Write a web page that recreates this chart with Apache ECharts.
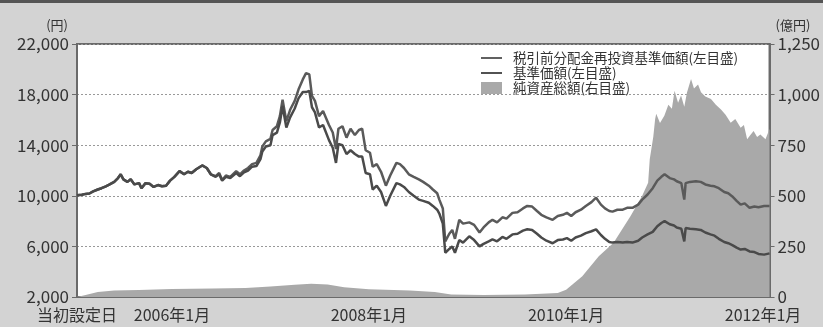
<!DOCTYPE html>
<html>
<head>
<meta charset="utf-8">
<script src="https://cdn.jsdelivr.net/npm/echarts@6/dist/echarts.min.js"></script>
<style>
  html, body { margin: 0; padding: 0; background: #d3d3d3; }
  #chart { width: 823px; height: 327px; }
</style>
</head>
<body>
<div id="chart"></div>
<script>
// 基準価額・税引前分配金再投資基準価額（円）
const priceDates = [
  '2005-01-14','2005-02-01','2005-02-15','2005-03-01','2005-03-15','2005-04-01','2005-04-15','2005-05-01','2005-05-15','2005-06-01',
  '2005-06-15','2005-06-25','2005-07-05','2005-07-20','2005-08-01','2005-08-15','2005-09-01','2005-09-10','2005-09-25','2005-10-10',
  '2005-10-25','2005-11-10','2005-11-25','2005-12-10','2005-12-25','2006-01-10','2006-01-29','2006-02-15','2006-03-01','2006-03-15',
  '2006-04-01','2006-04-23','2006-05-10','2006-05-25','2006-06-12','2006-06-25','2006-07-06','2006-07-20','2006-08-05','2006-08-27',
  '2006-09-10','2006-09-25','2006-10-10','2006-10-25','2006-11-10','2006-11-25','2006-12-02','2006-12-15','2007-01-01','2007-01-09',
  '2007-01-25','2007-02-05','2007-02-15','2007-03-01','2007-03-15','2007-04-01','2007-04-15','2007-05-01','2007-05-13','2007-05-25',
  '2007-06-04','2007-06-15','2007-06-30','2007-07-15','2007-08-06','2007-08-20','2007-09-01','2007-09-10','2007-09-25','2007-10-10',
  '2007-10-25','2007-11-10','2007-11-25','2007-12-07','2007-12-20','2008-01-05','2008-01-15','2008-01-30','2008-02-15','2008-03-04',
  '2008-03-20','2008-04-12','2008-04-25','2008-05-10','2008-05-28','2008-06-15','2008-07-04','2008-07-20','2008-08-10','2008-08-25',
  '2008-09-10','2008-09-18','2008-10-01','2008-10-10','2008-10-25','2008-11-05','2008-11-15','2008-12-01','2008-12-15','2009-01-07',
  '2009-01-25','2009-02-14','2009-03-01','2009-03-20','2009-04-03','2009-04-20','2009-05-10','2009-05-25','2009-06-16','2009-07-05',
  '2009-07-25','2009-08-10','2009-08-28','2009-09-15','2009-10-01','2009-10-20','2009-11-12','2009-12-01','2009-12-20','2010-01-04',
  '2010-01-20','2010-02-05','2010-02-25','2010-03-15','2010-04-05','2010-04-22','2010-05-10','2010-05-25','2010-06-10','2010-06-22',
  '2010-07-10','2010-07-30','2010-08-15','2010-09-04','2010-09-25','2010-10-10','2010-10-30','2010-11-18','2010-12-05','2010-12-20',
  '2011-01-01','2011-01-20','2011-02-05','2011-02-15','2011-03-04','2011-03-15','2011-03-20','2011-04-05','2011-04-27','2011-05-15',
  '2011-06-01','2011-06-20','2011-07-05','2011-07-21','2011-08-10','2011-08-25','2011-09-09','2011-09-25','2011-10-10','2011-10-25',
  '2011-11-12','2011-11-30','2011-12-15','2012-01-05','2012-01-25'
];
const navReinvest = [
  10050,10080,10150,10180,10350,10500,10600,10750,10900,11100,
  11400,11700,11300,11100,11300,10900,11000,10600,11000,10950,
  10700,10850,10750,10800,11200,11500,11950,11700,11900,11800,
  12100,12400,12200,11700,11550,11800,11250,11600,11500,11950,
  11700,12000,12200,12500,12600,13200,13900,14300,14500,15200,
  15500,16300,17600,15900,16800,17500,18400,19200,19700,19600,
  17900,17500,16300,16700,15600,15000,13700,15300,15500,14600,
  15300,14800,15200,15300,13600,13400,12300,12500,11900,10800,
  11600,12600,12500,12200,11700,11500,11300,11100,10800,10500,
  10200,9700,9000,6400,7000,7300,6600,8100,7800,7900,
  7700,7100,7500,7900,8100,7900,8300,8200,8650,8700,
  9000,9200,9150,8800,8500,8300,8100,8400,8500,8650,
  8400,8700,8900,9200,9500,9850,9300,9000,8800,8750,
  8900,8900,9050,9050,9300,9700,10100,10600,11200,11500,
  11700,11400,11300,11150,11000,9700,11000,11100,11150,11100,
  10900,10800,10750,10600,10300,10200,9950,9600,9300,9400,
  9050,9150,9100,9200,9200
];
const nav = [
  10050,10080,10150,10180,10350,10500,10600,10750,10900,11100,
  11400,11700,11300,11100,11300,10900,11000,10600,11000,10950,
  10700,10850,10750,10800,11200,11500,11950,11700,11900,11800,
  12100,12400,12200,11700,11500,11700,11200,11500,11400,11800,
  11550,11850,12000,12300,12350,12900,13500,13900,14000,14800,
  15000,15800,17100,15400,16200,16900,17700,18200,18200,18300,
  17000,16600,15400,15600,14400,13800,12600,14100,14000,13300,
  13600,13300,13100,13100,11800,11700,10500,10800,10300,9200,
  10000,11000,10900,10700,10300,10000,9700,9600,9450,9200,
  8900,8600,7800,5500,5800,6000,5500,6500,6300,6800,
  6500,6000,6200,6400,6550,6400,6750,6600,6950,7000,
  7250,7350,7300,7000,6700,6450,6250,6500,6550,6650,
  6450,6700,6850,7050,7200,7350,6900,6600,6350,6300,
  6350,6300,6350,6300,6450,6700,6950,7150,7600,7850,
  8000,7750,7650,7500,7400,6400,7450,7400,7350,7300,
  7100,6950,6850,6600,6350,6250,6100,5900,5750,5800,
  5600,5550,5400,5350,5450
];

// 純資産総額（億円）
const assetDates = [
  '2005-01-14','2005-02-15','2005-04-01','2005-06-01','2005-09-01','2006-01-01','2006-06-01','2006-10-01','2007-01-01','2007-04-01',
  '2007-06-01','2007-08-01','2007-10-01','2008-01-01','2008-06-01','2008-09-01','2008-11-01','2009-03-01','2009-08-01','2009-12-01',
  '2010-01-01','2010-03-02','2010-05-02','2010-06-26','2010-08-28','2010-10-10','2010-11-01','2010-11-07','2010-11-20','2010-11-27',
  '2010-12-01','2010-12-15','2010-12-31','2011-01-15','2011-01-28','2011-02-07','2011-02-20','2011-03-03','2011-03-15','2011-03-25',
  '2011-04-09','2011-04-20','2011-05-05','2011-05-16','2011-06-01','2011-06-22','2011-07-10','2011-07-29','2011-08-15','2011-09-03',
  '2011-09-20','2011-10-10','2011-10-22','2011-11-03','2011-11-15','2011-11-27','2011-12-10','2011-12-22','2012-01-10','2012-01-25'
];
const netAssets = [
  0,10,25,32,35,40,42,45,52,60,
  66,62,48,38,32,25,12,10,12,20,
  36,102,201,268,400,500,565,680,790,880,
  905,860,895,950,930,1019,960,995,940,1010,
  1077,1030,1050,1011,990,978,950,927,900,861,
  880,836,850,779,800,820,790,803,780,830
];

// 横軸ラベル
const startDate = '2005-01-14';
const endDate = '2012-01-25';
const yearTicks = ['2006-01-01', '2008-01-01', '2010-01-01', '2012-01-01'];
const legendNames = ['税引前分配金再投資基準価額(左目盛)', '基準価額(左目盛)', '純資産総額(右目盛)'];

function ts(s) {
  const p = s.split('-');
  return new Date(+p[0], +p[1] - 1, +p[2]).getTime();
}

function pair(dates, vals) {
  return dates.map((d, i) => [ts(d), vals[i]]);
}

function comma(v) {
  return String(v).replace(/\B(?=(\d{3})+(?!\d))/g, ',');
}

const FONT = '"Noto Sans CJK JP", "Noto Sans", sans-serif';
const startTs = ts(startDate);
// 凡例の線アイコン（細い横棒）
const LINE_ICON = 'path://M0,0H22V2H0Z';

const chart = echarts.init(document.getElementById('chart'));

const option = {
  animation: false,
  backgroundColor: '#d3d3d3',
  textStyle: { fontFamily: FONT },
  graphic: [
    { type: 'rect', left: 0, top: 0, shape: { width: 823, height: 3 }, style: { fill: '#555' } }
  ],
  grid: {
    left: 77, right: 53, top: 44, bottom: 30,
    show: true,
    backgroundColor: '#fff',
    borderColor: '#6a6a6a',
    borderWidth: 2
  },
  legend: {
    data: [
      { name: legendNames[0], icon: LINE_ICON },
      { name: legendNames[1], icon: LINE_ICON },
      { name: legendNames[2], icon: 'rect' }
    ],
    orient: 'vertical',
    left: 476,
    top: 46,
    itemWidth: 21,
    itemHeight: 12,
    itemGap: 1,
    symbolKeepAspect: true,
    textStyle: { fontFamily: FONT, fontSize: 13.5, color: '#333', lineHeight: 14, padding: [0, 0, 0, 6] }
  },
  xAxis: {
    // 日付はタイムスタンプの数値軸で扱う
    type: 'value',
    min: startTs,
    max: ts(endDate),
    axisLine: { show: true, lineStyle: { color: '#6a6a6a', width: 2 } },
    axisTick: {
      show: true,
      inside: true,
      length: 5,
      customValues: yearTicks.map(ts),
      lineStyle: { color: '#444', width: 1.5 }
    },
    axisLabel: {
      customValues: [startTs].concat(yearTicks.map(ts)),
      fontFamily: FONT,
      fontSize: 16,
      color: '#333',
      margin: 10,
      formatter: function (val) {
        if (val === startTs) return '当初設定日';
        return new Date(val).getFullYear() + '年1月';
      }
    },
    splitLine: { show: false }
  },
  yAxis: [
    {
      type: 'value',
      min: 2000,
      max: 22000,
      interval: 4000,
      name: '(円)',
      nameLocation: 'end',
      nameGap: 12,
      nameTextStyle: { fontFamily: FONT, fontSize: 13, color: '#333', align: 'right', padding: [0, 9, 0, 0] },
      axisLine: { show: true, lineStyle: { color: '#6a6a6a', width: 2 } },
      axisTick: { show: true, length: 5, lineStyle: { color: '#6a6a6a' } },
      axisLabel: { fontFamily: FONT, fontSize: 17, color: '#333', margin: 8, formatter: comma },
      splitLine: { show: true, lineStyle: { color: '#999', type: [2, 2], width: 1 } }
    },
    {
      type: 'value',
      min: 0,
      max: 1250,
      interval: 250,
      name: '(億円)',
      nameLocation: 'end',
      nameGap: 12,
      nameTextStyle: { fontFamily: FONT, fontSize: 13, color: '#333', align: 'left', padding: [0, 0, 0, 6] },
      axisLine: { show: true, lineStyle: { color: '#6a6a6a', width: 2 } },
      axisTick: { show: true, length: 5, lineStyle: { color: '#6a6a6a' } },
      axisLabel: { fontFamily: FONT, fontSize: 17, color: '#333', margin: 8, formatter: comma },
      splitLine: { show: false }
    }
  ],
  series: [
    {
      name: legendNames[2],
      type: 'line',
      yAxisIndex: 1,
      data: pair(assetDates, netAssets),
      symbol: 'none',
      itemStyle: { color: '#a9a9a9' },
      lineStyle: { width: 0, color: '#a9a9a9' },
      areaStyle: { color: '#a9a9a9', opacity: 1 },
      z: 1
    },
    {
      name: legendNames[0],
      type: 'line',
      data: pair(priceDates, navReinvest),
      symbol: 'none',
      itemStyle: { color: '#5a5a5a' },
      lineStyle: { width: 2.5, color: '#5a5a5a' },
      z: 3
    },
    {
      name: legendNames[1],
      type: 'line',
      data: pair(priceDates, nav),
      symbol: 'none',
      itemStyle: { color: '#4a4a4a' },
      lineStyle: { width: 2.5, color: '#4a4a4a' },
      z: 3
    }
  ]
};

chart.setOption(option);
</script>
</body>
</html>
